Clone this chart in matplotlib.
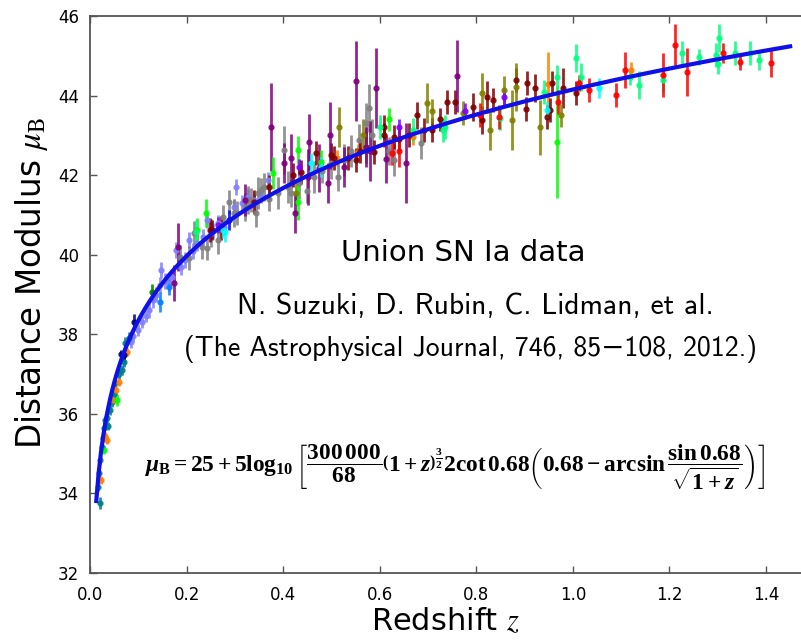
import numpy as np
import matplotlib
matplotlib.use("Agg")
import matplotlib.pyplot as plt

# supernova points: (z, mu, error) per colour group
purple = [(0.175, 39.29, 0.45), (0.183, 40.2, 0.6), (0.322, 41.38, 0.4), (0.375, 43.21, 1.1),
          (0.402, 42.3, 0.5), (0.417, 42.43, 0.6), (0.425, 41.05, 0.5), (0.451, 41.95, 0.7),
          (0.454, 42.83, 0.7), (0.474, 42.18, 0.6), (0.493, 41.8, 0.5), (0.497, 43.0, 0.85),
          (0.527, 42.2, 0.5), (0.551, 44.37, 1.0), (0.571, 42.71, 0.5), (0.58, 42.6, 0.75),
          (0.592, 44.19, 1.0), (0.612, 42.4, 0.6), (0.654, 42.31, 1.0), (0.761, 44.49, 0.9)]
gray = [(0.187, 39.94, 0.3), (0.204, 39.92, 0.3), (0.215, 40.55, 0.3), (0.231, 40.2, 0.3),
        (0.243, 40.17, 0.3), (0.25, 40.55, 0.35), (0.266, 40.37, 0.35), (0.275, 40.95, 0.3),
        (0.287, 41.33, 0.3), (0.299, 41.05, 0.35), (0.305, 41.05, 0.3), (0.32, 41.2, 0.35),
        (0.328, 41.38, 0.35), (0.334, 41.38, 0.3), (0.344, 41.05, 0.35), (0.348, 41.55, 0.4),
        (0.355, 41.63, 0.3), (0.361, 41.7, 0.35), (0.37, 41.4, 0.3), (0.39, 41.55, 0.4),
        (0.402, 42.63, 0.6), (0.41, 41.7, 0.4), (0.417, 41.55, 0.35), (0.433, 41.8, 0.4),
        (0.45, 41.6, 0.3), (0.464, 41.95, 0.4), (0.48, 42.1, 0.3), (0.499, 42.3, 0.4),
        (0.513, 41.95, 0.35), (0.526, 42.38, 0.4), (0.54, 42.6, 0.4), (0.557, 42.88, 0.4),
        (0.571, 43.31, 0.5), (0.577, 43.69, 0.6), (0.583, 43.0, 0.4), (0.62, 42.6, 0.35),
        (0.629, 42.38, 0.4), (0.685, 42.8, 0.4)]
periwinkle = [(0.085, 37.8, 0.15), (0.09, 37.95, 0.15), (0.1, 38.1, 0.15), (0.108, 38.3, 0.15),
              (0.115, 38.45, 0.15), (0.122, 38.61, 0.2), (0.13, 38.85, 0.2), (0.137, 39.0, 0.2),
              (0.145, 39.25, 0.2), (0.148, 39.62, 0.2), (0.155, 39.35, 0.2), (0.163, 39.29, 0.2),
              (0.17, 39.44, 0.2), (0.179, 40.12, 0.2), (0.188, 39.7, 0.2), (0.196, 39.87, 0.2),
              (0.204, 40.37, 0.2), (0.213, 40.1, 0.2), (0.222, 40.3, 0.2), (0.235, 40.45, 0.2),
              (0.243, 40.87, 0.2), (0.255, 40.6, 0.2), (0.265, 40.8, 0.2), (0.278, 40.7, 0.2),
              (0.299, 41.2, 0.2), (0.303, 41.7, 0.2), (0.315, 41.3, 0.2), (0.328, 41.45, 0.2),
              (0.34, 41.38, 0.2), (0.355, 41.5, 0.2), (0.369, 41.88, 0.2)]
maroon = [(0.249, 40.62, 0.3), (0.252, 40.62, 0.25), (0.272, 40.67, 0.3), (0.34, 41.33, 0.3),
          (0.371, 41.7, 0.3), (0.42, 42.0, 0.3), (0.437, 42.08, 0.3), (0.468, 42.56, 0.3),
          (0.5, 42.5, 0.3), (0.505, 42.43, 0.3), (0.534, 42.43, 0.3), (0.551, 42.38, 0.3),
          (0.56, 42.6, 0.3), (0.588, 42.58, 0.3), (0.608, 43.0, 0.3), (0.608, 43.21, 0.3),
          (0.629, 42.96, 0.3), (0.64, 42.9, 0.3), (0.66, 43.0, 0.3), (0.678, 43.5, 0.35),
          (0.691, 43.14, 0.3), (0.709, 43.14, 0.3), (0.724, 43.4, 0.3), (0.74, 43.84, 0.3),
          (0.755, 43.84, 0.3), (0.794, 43.71, 0.35), (0.812, 43.39, 0.35), (0.823, 43.96, 0.4),
          (0.835, 43.89, 0.3), (0.882, 44.39, 0.3), (0.903, 43.66, 0.3), (0.905, 44.32, 0.3),
          (0.922, 44.19, 0.35), (0.946, 43.46, 0.3), (0.952, 43.64, 0.3), (0.957, 44.32, 0.3),
          (0.979, 44.19, 0.5), (1.006, 44.06, 0.3)]
olive = [(0.427, 41.55, 0.3), (0.515, 43.21, 0.5), (0.565, 43.0, 0.4), (0.571, 42.7, 0.4),
         (0.697, 43.81, 0.5), (0.709, 43.61, 0.3), (0.772, 43.56, 0.3), (0.812, 44.06, 0.5),
         (0.829, 43.14, 0.5), (0.858, 44.14, 0.35), (0.874, 43.39, 0.75), (0.882, 44.22, 0.6),
         (0.932, 43.2, 0.7), (0.975, 43.5, 0.3)]
lime = [(0.03, 35.09, 0.1), (0.056, 36.35, 0.15), (0.221, 40.62, 0.3), (0.241, 41.05, 0.35),
        (0.379, 42.05, 0.4), (0.431, 41.33, 0.45), (0.431, 42.63, 0.35), (0.478, 42.33, 0.3),
        (0.619, 43.4, 0.3), (0.967, 42.83, 1.4)]
spring = [(0.219, 40.57, 0.3), (0.6, 43.2, 0.3), (0.668, 43.14, 0.3), (0.732, 43.14, 0.3),
          (0.736, 43.2, 0.3), (0.85, 43.44, 0.3), (0.94, 44.09, 0.3), (0.967, 44.47, 0.3),
          (1.006, 44.94, 0.35), (1.016, 44.47, 0.35), (1.118, 44.47, 0.2), (1.138, 44.27, 0.35),
          (1.187, 44.39, 0.3), (1.227, 45.07, 0.3), (1.262, 44.97, 0.2), (1.297, 45.02, 0.3),
          (1.30, 44.8, 0.25), (1.303, 45.45, 0.35), (1.336, 45.07, 0.3), (1.367, 45.07, 0.3),
          (1.386, 44.9, 0.25)]
red = [(0.626, 42.56, 0.3), (0.64, 42.6, 0.4), (0.808, 43.51, 0.3), (0.847, 43.46, 0.3),
       (0.969, 43.84, 0.3), (1.012, 44.32, 0.2), (1.033, 44.14, 0.3), (1.09, 44.01, 0.3),
       (1.107, 44.64, 0.45), (1.186, 44.52, 0.55), (1.212, 45.27, 0.53), (1.237, 44.59, 0.6),
       (1.311, 45.07, 0.25), (1.346, 44.84, 0.2), (1.41, 44.82, 0.35)]
orange = [(0.022, 34.34, 0.1), (0.032, 35.45, 0.1), (0.035, 35.34, 0.1), (0.048, 36.35, 0.1),
          (0.054, 36.6, 0.1), (0.06, 36.8, 0.1), (0.076, 37.56, 0.1), (0.511, 42.43, 0.2),
          (0.555, 42.58, 0.2), (0.669, 42.96, 0.2), (0.948, 44.3, 0.8), (1.121, 44.64, 0.2)]
cyan = [(0.275, 40.62, 0.2), (0.28, 40.57, 0.25), (0.458, 42.3, 0.25), (0.478, 42.2, 0.25),
        (0.946, 43.64, 0.2), (1.054, 44.19, 0.25)]
azure = [(0.146, 38.81, 0.25), (0.163, 39.19, 0.2)]
teal = [(0.017, 34.16, 0.1), (0.019, 34.51, 0.1), (0.021, 33.76, 0.15), (0.021, 34.84, 0.1),
        (0.025, 35.17, 0.1), (0.027, 35.4, 0.1), (0.029, 35.65, 0.1), (0.031, 35.85, 0.1),
        (0.035, 35.9, 0.1), (0.038, 35.7, 0.1), (0.041, 36.1, 0.12), (0.045, 36.3, 0.12),
        (0.05, 36.5, 0.12), (0.052, 36.78, 0.12), (0.06, 37.0, 0.12), (0.066, 37.1, 0.12),
        (0.07, 37.3, 0.12), (0.072, 37.78, 0.15), (0.08, 37.9, 0.15)]
navy = [(0.065, 37.5, 0.1), (0.07, 37.48, 0.15), (0.091, 38.31, 0.2)]
darkgreen = [(0.128, 39.06, 0.2)]
violet = [(0.266, 40.75, 0.2), (0.433, 42.2, 0.2), (0.64, 43.21, 0.2), (0.777, 43.61, 0.2),
          (0.858, 43.96, 0.2)]
blue_pts = [(0.287, 40.87, 0.25)]

groups = [(periwinkle, '#8080ff'), (teal, '#008080'), (orange, '#ff8000'), (navy, '#000080'),
          (darkgreen, '#008000'), (azure, '#0080ff'), (gray, '#808080'), (maroon, '#800000'),
          (olive, '#808000'), (purple, '#800080'), (lime, '#00ff00'), (spring, '#00ff7f'),
          (red, '#ff0000'), (cyan, '#00ffff'), (violet, '#8000ff'), (blue_pts, '#0000ff')]

# model curve given in the chart
z_model = np.linspace(0.013, 1.45, 300)
mu_model = 25 + 5 * np.log10(300000 / 68 * (1 + z_model) ** 1.5 * 2 / np.tan(0.68)
                             * (0.68 - np.arcsin(np.sin(0.68) / np.sqrt(1 + z_model))))

plt.rcParams['font.family'] = ['DejaVu Sans']
plt.rcParams['mathtext.fontset'] = 'custom'
plt.rcParams['mathtext.rm'] = 'Liberation Serif:bold'
plt.rcParams['mathtext.it'] = 'Liberation Serif:italic:bold'
plt.rcParams['mathtext.bf'] = 'Liberation Serif:bold'

fig = plt.figure(figsize=(8.01, 6.43), dpi=100)
ax = fig.add_axes([90 / 801, 1 - 573 / 643, 1 - 90 / 801, (573 - 16) / 643])

for pts, col in groups:
    arr = np.array(pts)
    ax.errorbar(arr[:, 0], arr[:, 1], yerr=arr[:, 2], fmt='o', ms=3.5, color=col,
                ecolor=col, elinewidth=2, capsize=0, alpha=0.85, zorder=2)

ax.plot(z_model, mu_model, color='#1010e8', lw=3, zorder=3)

ax.set_xlim(0, 1.4725)
ax.set_ylim(32, 46)
ax.set_xticks([0.0, 0.2, 0.4, 0.6, 0.8, 1.0, 1.2, 1.4])
ax.set_yticks([32, 34, 36, 38, 40, 42, 44, 46])
ax.tick_params(direction='in', top=True, length=5, width=1, color='#555555',
               labelsize=12)
ax.tick_params(axis='x', pad=9)
ax.tick_params(axis='y', pad=8)
for side in ['left', 'bottom', 'top']:
    ax.spines[side].set_color('#555555')
    ax.spines[side].set_linewidth(1.3)
ax.spines['right'].set_visible(False)

ax.set_xlabel(r'Redshift $z$', fontsize=22, labelpad=2, math_fontfamily='stix')
ax.set_ylabel(r'Distance Modulus $\mu_{\rm B}$', fontsize=23.5, math_fontfamily='stix')
ax.yaxis.set_label_coords(-0.056, 0.521)

cmss = ['cmss10', 'DejaVu Sans']
fig.text(463 / 801, 1 - 253 / 643, 'Union SN Ia data', fontsize=21,
         ha='center', va='center')
fig.text(475 / 801, 1 - 306 / 643, 'N. Suzuki, D. Rubin, C. Lidman, et al.', family=cmss,
         fontsize=21.3, ha='center', va='center')
fig.text(470 / 801, 1 - 349 / 643, '(The Astrophysical Journal, 746, 85\u2212108, 2012.)',
         family=cmss, fontsize=20, ha='center', va='center')

formula = (r'$\mu_{\rm B}=25+5\log_{10}\left[\dfrac{300\,000}{68}\left(1+z\right)^{\frac{3}{2}}'
           r'2\cot 0.68\left(0.68-\arcsin\dfrac{\sin 0.68}{\sqrt{1+z}}\right)\right]$')
fig.text(455 / 801, 1 - 467 / 643, formula, fontsize=16.8, ha='center', va='center')

fig.savefig('out.png', dpi=100)
